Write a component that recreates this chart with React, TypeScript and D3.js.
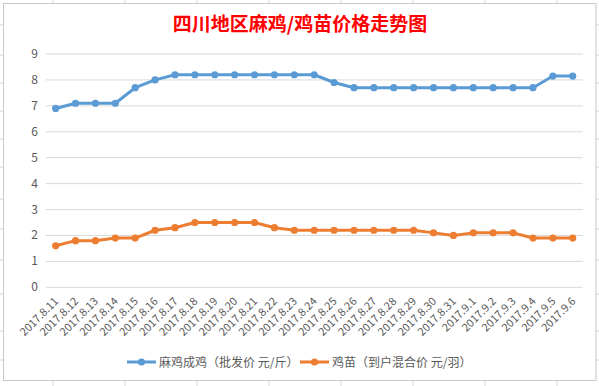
import * as d3 from "d3";
import React, { useEffect, useRef } from "react";

// 日期
const dates = [
  "2017.8.11", "2017.8.12", "2017.8.13", "2017.8.14", "2017.8.15", "2017.8.16",
  "2017.8.17", "2017.8.18", "2017.8.19", "2017.8.20", "2017.8.21", "2017.8.22",
  "2017.8.23", "2017.8.24", "2017.8.25", "2017.8.26", "2017.8.27", "2017.8.28",
  "2017.8.29", "2017.8.30", "2017.8.31", "2017.9.1", "2017.9.2", "2017.9.3",
  "2017.9.4", "2017.9.5", "2017.9.6"
];
// 麻鸡成鸡（批发价 元/斤）
const adultPrice = [
  6.9, 7.1, 7.1, 7.1, 7.7, 8.0, 8.2, 8.2, 8.2, 8.2, 8.2, 8.2, 8.2, 8.2,
  7.9, 7.7, 7.7, 7.7, 7.7, 7.7, 7.7, 7.7, 7.7, 7.7, 7.7, 8.15, 8.15
];
// 鸡苗（到户混合价 元/羽）
const chickPrice = [
  1.6, 1.8, 1.8, 1.9, 1.9, 2.2, 2.3, 2.5, 2.5, 2.5, 2.5, 2.3, 2.2, 2.2,
  2.2, 2.2, 2.2, 2.2, 2.2, 2.1, 2.0, 2.1, 2.1, 2.1, 1.9, 1.9, 1.9
];
const yTicks = [0, 1, 2, 3, 4, 5, 6, 7, 8, 9];
const seriesNames = ["麻鸡成鸡（批发价 元/斤）", "鸡苗（到户混合价 元/羽）"];
const title = "四川地区麻鸡/鸡苗价格走势图";

// excel 背景格子线
const sheetRows = [25, 55, 83, 111, 139, 167, 199, 229, 260, 294, 331, 360];
const sheetCols = [53, 125, 197, 269, 341, 413, 485, 557];

const width = 599;
const height = 386;
const colors = ["#5B9BD5", "#ED7D31"];
const font = "'Noto Sans CJK SC', 'Noto Sans', sans-serif";

export default function App() {
  const ref = useRef<SVGSVGElement>(null);

  useEffect(() => {
    const svg = d3.select(ref.current);
    svg.selectAll("*").remove();

    // 工作表格子
    svg.append("rect").attr("width", width).attr("height", height).attr("fill", "#fff");
    svg.selectAll(".rowtick").data(sheetRows).enter().append("line")
      .attr("x1", 0).attr("x2", 3).attr("y1", d => d).attr("y2", d => d)
      .attr("stroke", "#d4d4d4");
    svg.selectAll(".rowtick2").data(sheetRows).enter().append("line")
      .attr("x1", 596).attr("x2", width).attr("y1", d => d).attr("y2", d => d)
      .attr("stroke", "#d4d4d4");
    svg.selectAll(".coltick").data(sheetCols).enter().append("line")
      .attr("x1", d => d).attr("x2", d => d).attr("y1", 0).attr("y2", 3)
      .attr("stroke", "#d4d4d4");
    svg.selectAll(".coltick2").data(sheetCols).enter().append("line")
      .attr("x1", d => d).attr("x2", d => d).attr("y1", 381).attr("y2", height)
      .attr("stroke", "#d4d4d4");

    // 图表边框
    svg.append("rect")
      .attr("x", 3.5).attr("y", 3.5).attr("width", 592.5).attr("height", 377)
      .attr("fill", "#fff").attr("stroke", "#c8c8c8");

    // 标题
    svg.append("text")
      .attr("x", 300).attr("y", 31)
      .attr("text-anchor", "middle")
      .attr("font-family", font)
      .attr("font-weight", "bold")
      .attr("font-size", "19px")
      .attr("fill", "#FF0000")
      .text(title);

    const xScale = d3.scaleBand<string>().domain(dates).range([45.7, 582.7]);
    const yScale = d3.scaleLinear().domain([0, 9]).range([287.3, 54]);
    const cx = (d: string) => (xScale(d) as number) + xScale.bandwidth() / 2;

    // 网格线
    svg.append("g")
      .selectAll("line").data(yTicks).enter().append("line")
      .attr("x1", 45.7).attr("x2", 582.7)
      .attr("y1", d => yScale(d)).attr("y2", d => yScale(d))
      .attr("stroke", "#d9d9d9").attr("stroke-width", 1);

    // y轴
    svg.append("g")
      .selectAll("text").data(yTicks).enter().append("text")
      .attr("x", 38).attr("y", d => yScale(d) + 4)
      .attr("text-anchor", "end")
      .attr("font-family", font).attr("font-size", "12px")
      .attr("fill", "#595959")
      .text(d => d);

    // x轴
    svg.append("g")
      .selectAll("text").data(dates).enter().append("text")
      .attr("transform", d => "translate(" + (cx(d) + 3.5) + ",302) rotate(-45)")
      .attr("text-anchor", "end")
      .attr("font-family", font).attr("font-size", "11px")
      .attr("fill", "#595959")
      .text(d => d);

    const line = d3.line<number>()
      .x((d, i) => cx(dates[i]))
      .y(d => yScale(d));

    [adultPrice, chickPrice].forEach((data, k) => {
      svg.append("path")
        .datum(data)
        .attr("d", line)
        .attr("fill", "none")
        .attr("stroke", colors[k])
        .attr("stroke-width", 3)
        .attr("stroke-linejoin", "round");
      svg.append("g").selectAll("circle").data(data).enter().append("circle")
        .attr("cx", (d, i) => cx(dates[i]))
        .attr("cy", d => yScale(d))
        .attr("r", 3.6)
        .attr("fill", colors[k]);
    });

    // 图例
    const legendX = [127, 300];
    seriesNames.forEach((name, k) => {
      const g = svg.append("g").attr("transform", "translate(" + legendX[k] + ",362)");
      g.append("line").attr("x1", 0).attr("x2", 29).attr("y1", 0).attr("y2", 0)
        .attr("stroke", colors[k]).attr("stroke-width", 3);
      g.append("circle").attr("cx", 14.5).attr("cy", 0).attr("r", 3.6).attr("fill", colors[k]);
      g.append("text").attr("x", 32).attr("y", 4.5)
        .attr("font-family", font).attr("font-size", "12px")
        .attr("fill", "#595959")
        .text(name);
    });
  }, []);

  return (
    <svg ref={ref} width={width} height={height}
      style={{ position: "absolute", left: 0, top: 0, display: "block" }} />
  );
}
